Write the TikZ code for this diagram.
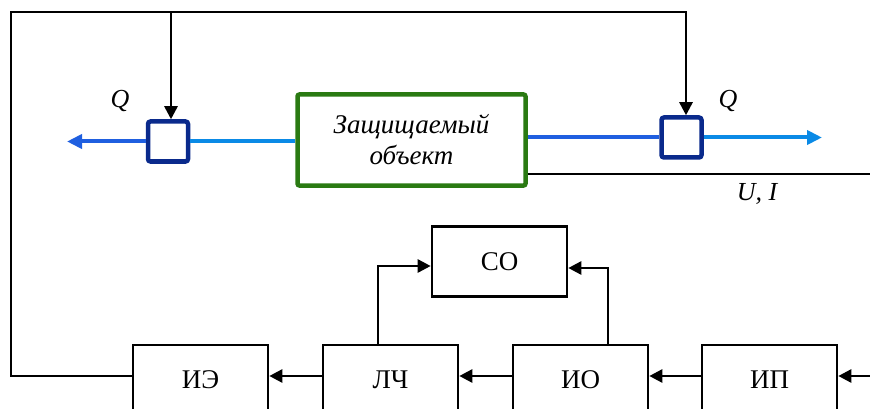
\documentclass[tikz,border=0pt]{standalone}
\usepackage{fontspec}
\setmainfont{Liberation Serif}
\usetikzlibrary{arrows.meta}
\definecolor{deepblue}{HTML}{1F5FE0}
\definecolor{lightblue}{HTML}{0A8AE6}
\definecolor{navy}{HTML}{0A2A8C}
\definecolor{objgreen}{HTML}{2A7A12}
\tikzset{
  blk/.style={draw=black, line width=2.6pt, minimum width=135pt, minimum height=70pt, inner sep=0pt, font=\fontsize{27}{30}\selectfont},
  valve/.style={draw=navy, line width=4.5pt, rounded corners=2.5pt, minimum width=40pt, minimum height=40pt, inner sep=0pt, fill=white},
  obj/.style={draw=objgreen, line width=4.5pt, rounded corners=2pt, minimum width=228pt, minimum height=91pt, align=center, font=\fontsize{27}{31}\selectfont\itshape},
  wire/.style={draw=black, line width=2.6pt},
  arr/.style={wire, -{Triangle[length=13pt,width=13pt]}},
  flowd/.style={draw=deepblue, line width=4pt},
  flowl/.style={draw=lightblue, line width=4pt},
  flowtip/.style={-{Triangle[length=15pt,width=14pt]}},
  lbl/.style={font=\fontsize{26}{28}\selectfont\itshape, inner sep=0pt}
}
\begin{document}
\begin{tikzpicture}[x=1pt,y=-1pt]
\useasboundingbox (0,0) rectangle (870,409);
\clip (0,0) rectangle (870,409);
% nodes
\node[obj] (obj) at (411.5,140) {Защищаемый\\объект};
\node[valve] (vl) at (168,141.5) {};
\node[valve] (vr) at (681.5,137.5) {};
\node[blk] (co) at (499.5,261.5) {СО};
\node[blk] (ie) at (200.5,380) {ИЭ};
\node[blk] (lch) at (390.5,380) {ЛЧ};
\node[blk] (io) at (580.5,380) {ИО};
\node[blk] (ip) at (769.5,380) {ИП};
\node[lbl] (ql) at (120,101) {Q};
\node[lbl] (qr) at (728,101) {Q};
\node[lbl] (ui) at (757,194) {U, I};
% coordinates
\coordinate (tl) at (11,12);
\coordinate (tr) at (686,12);
\coordinate (lout) at (67,141.5);
\coordinate (rout) at (822,137.5);
\coordinate (uiend) at (870,174);
\coordinate (ipin) at (870,376);
% blue flow lines
\draw[flowd, flowtip] (vl.west) -- (lout);
\draw[flowl] (vl.east) -- (vl.east -| obj.west);
\draw[flowd] (obj.east |- vr.west) -- (vr.west);
\draw[flowl, flowtip] (vr.east) -- (rout);
% output line U,I
\draw[wire] (obj.east |- uiend) -- (uiend);
% feedback loop
\draw[arr] (ie.west |- 0,376) -- (11,376) -- (tl) -- (tr) -- (686,0 |- vr.north);
\draw[arr] (171,12) -- (171,0 |- vl.north);
% chain
\draw[arr] (ipin) -- (ip.east |- ipin);
\draw[arr] (ip.west |- ipin) -- (io.east |- ipin);
\draw[arr] (io.west |- ipin) -- (lch.east |- ipin);
\draw[arr] (lch.west |- ipin) -- (ie.east |- ipin);
\draw[arr] (378,0 |- lch.north) -- (378,266) -- (co.west |- 0,266);
\draw[arr] (608,0 |- io.north) -- (608,268) -- (co.east |- 0,268);
\end{tikzpicture}
\end{document}
